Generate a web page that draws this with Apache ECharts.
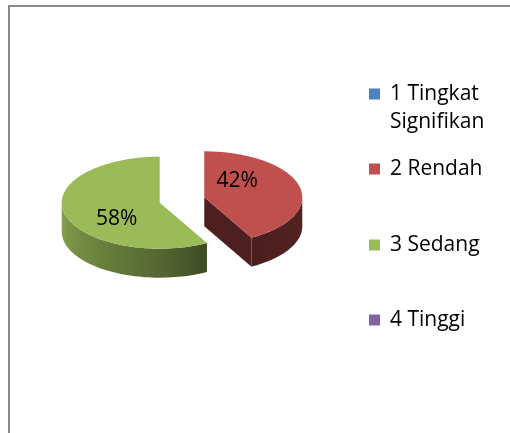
<!DOCTYPE html>
<html>
<head>
<meta charset="utf-8">
<script src="https://cdn.jsdelivr.net/npm/echarts@6/dist/echarts.min.js"></script>
<style>
html, body { margin: 0; padding: 0; background: #fff; }
#chart { width: 510px; height: 433px; }
</style>
</head>
<body>
<div id="chart"></div>
<script>
// data
var categories = ['1 Tingkat Signifikan', '2 Rendah', '3 Sedang', '4 Tinggi'];
var values = [0, 42, 58, 0];
var colors = ['#4F81BD', '#C0504D', '#9BBB59', '#8064A2'];

var total = 0;
for (var i = 0; i < values.length; i++) total += values[i];

// pie layout (flattened 3d look)
var cx = 182, cy = 200, rx = 98, ry = 46, depth = 29, explode = 23;

function hexRgb(h) {
    return [parseInt(h.substr(1, 2), 16), parseInt(h.substr(3, 2), 16), parseInt(h.substr(5, 2), 16)];
}
function shade(h, f) {
    var c = hexRgb(h);
    return 'rgb(' + Math.round(c[0] * f) + ',' + Math.round(c[1] * f) + ',' + Math.round(c[2] * f) + ')';
}
// darkness of the side walls by angle (clockwise from top)
var shadeA = [90, 150, 180, 270];
var shadeF = [0.43, 0.39, 0.55, 0.88];
function shadeAt(a) {
    var d = a * 180 / Math.PI;
    if (d <= shadeA[0]) return shadeF[0];
    for (var k = 1; k < shadeA.length; k++) {
        if (d <= shadeA[k]) {
            var t = (d - shadeA[k - 1]) / (shadeA[k] - shadeA[k - 1]);
            return shadeF[k - 1] + t * (shadeF[k] - shadeF[k - 1]);
        }
    }
    return shadeF[shadeF.length - 1];
}

function renderSlice(idx) {
    return function (params, api) {
        var v = api.value(0);
        if (!v) return;
        var before = 0;
        for (var j = 0; j < idx; j++) before += values[j];
        var a0 = before / total * Math.PI * 2;
        var a1 = (before + v) / total * Math.PI * 2;
        var mid = (a0 + a1) / 2;
        var ox = cx + explode * Math.sin(mid);
        var oy = cy - explode * (ry / rx) * Math.cos(mid);
        var base = colors[idx];
        function pt(a, dz) {
            return [ox + rx * Math.sin(a), oy - ry * Math.cos(a) + dz];
        }
        var children = [];
        // cut faces
        if (Math.sin(a0) < -1e-6) {
            children.push({ type: 'polygon', shape: { points: [[ox, oy], [ox, oy + depth], pt(a0, depth), pt(a0, 0)] },
                style: { fill: shade(base, 0.4) } });
        }
        if (Math.sin(a1) > 1e-6) {
            children.push({ type: 'polygon', shape: { points: [[ox, oy], [ox, oy + depth], pt(a1, depth), pt(a1, 0)] },
                style: { fill: shade(base, 0.4) } });
        }
        // outer wall (front half only)
        var s = Math.max(a0, Math.PI / 2), e = Math.min(a1, Math.PI * 1.5);
        if (e > s) {
            var pts = [], n = 60, k;
            for (k = 0; k <= n; k++) pts.push(pt(s + (e - s) * k / n, 0));
            for (k = n; k >= 0; k--) pts.push(pt(s + (e - s) * k / n, depth));
            var xl = pt(e, 0)[0], xr = pt(s, 0)[0];
            var stops = [];
            for (k = 0; k <= 12; k++) {
                var a = s + (e - s) * k / 12;
                stops.push({ offset: (pt(a, 0)[0] - xl) / (xr - xl), color: shade(base, shadeAt(a)) });
            }
            stops.sort(function (p, q) { return p.offset - q.offset; });
            children.push({ type: 'polygon', shape: { points: pts },
                style: { fill: new echarts.graphic.LinearGradient(xl, 0, xr, 0, stops, true) } });
        }
        // top face
        var top = [[ox, oy]];
        for (var m = 0; m <= 90; m++) top.push(pt(a0 + (a1 - a0) * m / 90, 0));
        children.push({ type: 'polygon', shape: { points: top }, style: { fill: base } });
        // percentage label
        children.push({ type: 'text', x: ox + rx * 0.4 * Math.sin(mid) - 5, y: oy - ry * 1.4 * Math.cos(mid),
            style: { text: Math.round(v / total * 100) + '%', fill: '#000', fontSize: 21,
                fontFamily: 'Open Sans', align: 'center', verticalAlign: 'middle' } });
        return { type: 'group', children: children };
    };
}

var legendTops = [52, 155, 231, 306];
var series = [], legends = [];
for (i = 0; i < categories.length; i++) {
    series.push({
        type: 'custom',
        name: categories[i],
        coordinateSystem: 'none',
        itemStyle: { color: colors[i] },
        renderItem: renderSlice(i),
        data: [[values[i]]],
        silent: true
    });
    legends.push({
        data: [categories[i]],
        left: 369,
        top: legendTops[i],
        orient: 'vertical',
        padding: 0,
        itemWidth: 11,
        itemHeight: 11,
        icon: 'rect',
        selectedMode: false,
        formatter: i == 0 ? function (name) { return '\n' + name.replace(' Signifikan', '\nSignifikan'); } : '{name}',
        textStyle: { fontFamily: 'Open Sans', fontSize: 21, color: '#000', lineHeight: 28, padding: [0, 0, 0, 5] }
    });
}

var myChart = echarts.init(document.getElementById('chart'));
myChart.setOption({
    backgroundColor: '#fff',
    animation: false,
    legend: legends,
    graphic: [{
        type: 'rect',
        shape: { x: 9, y: 6, width: 540, height: 460 },
        style: { fill: 'none', stroke: '#8c8c8c', lineWidth: 2 },
        silent: true
    }],
    series: series
});
</script>
</body>
</html>
